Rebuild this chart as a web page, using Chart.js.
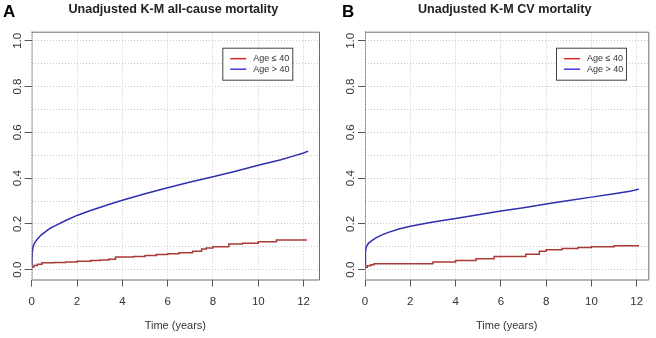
<!DOCTYPE html>
<html>
<head>
<meta charset="utf-8">
<script src="https://cdn.jsdelivr.net/npm/chart.js@4.4.0/dist/chart.umd.min.js"></script>
<style>
  body { margin: 0; background: #fff; }
  #wrap { position: relative; width: 656px; height: 338px; }
  canvas { position: absolute; top: 0; }
</style>
</head>
<body>
<div id="wrap">
  <canvas id="chartA" width="328" height="338" style="left:0"></canvas>
  <canvas id="chartB" width="328" height="338" style="left:328px"></canvas>
</div>
<script>
// panel A: all-cause mortality
const allYoungT = [0, 0.1, 0.25, 0.45, 1.0, 1.5, 2.0, 2.6, 3.0, 3.4, 3.7, 4.5, 5.0, 5.5, 6.0, 6.5, 7.1, 7.5, 7.7, 8.0, 8.7, 9.3, 10.0, 10.8, 12.15];
const allYoungY = [0.012, 0.018, 0.024, 0.03, 0.031, 0.034, 0.037, 0.04, 0.042, 0.046, 0.055, 0.058, 0.062, 0.066, 0.07, 0.074, 0.08, 0.09, 0.095, 0.1, 0.112, 0.115, 0.122, 0.13, 0.13];
const allOldT = [0, 0.01, 0.03, 0.06, 0.12, 0.22, 0.4, 0.6, 0.8, 1.0, 1.5, 2.0, 2.5, 3.0, 3.5, 4.0, 5.0, 6.0, 7.0, 8.0, 9.0, 10.0, 11.0, 11.5, 12.0, 12.2];
const allOldY = [0.02, 0.05, 0.08, 0.1, 0.115, 0.13, 0.15, 0.165, 0.18, 0.19, 0.215, 0.237, 0.255, 0.272, 0.288, 0.303, 0.332, 0.358, 0.383, 0.406, 0.43, 0.456, 0.48, 0.495, 0.51, 0.518];

// panel B: CV mortality
const cvYoungT = [0, 0.1, 0.25, 0.4, 3.0, 4.0, 4.9, 5.7, 7.1, 7.7, 8.0, 8.7, 9.4, 10.0, 11.0, 12.1];
const cvYoungY = [0.01, 0.017, 0.022, 0.026, 0.033, 0.04, 0.048, 0.058, 0.067, 0.08, 0.087, 0.092, 0.097, 0.1, 0.105, 0.105];
const cvOldT = [0, 0.01, 0.03, 0.06, 0.15, 0.3, 0.5, 0.75, 1.0, 1.5, 2.0, 3.0, 4.0, 5.0, 6.0, 7.0, 8.0, 9.0, 10.0, 11.0, 11.7, 12.1];
const cvOldY = [0.02, 0.05, 0.08, 0.1, 0.115, 0.127, 0.14, 0.152, 0.162, 0.178, 0.19, 0.208, 0.224, 0.24, 0.256, 0.271, 0.287, 0.302, 0.317, 0.332, 0.343, 0.352];

const legendLabels = ['Age \u2264 40', 'Age > 40'];
const xTicks = [0, 2, 4, 6, 8, 10, 12];
const yTicks = [0, 0.2, 0.4, 0.6, 0.8, 1.0];

const toPoints = (t, y) => t.map((v, i) => ({ x: v, y: y[i] }));

function isMajorY(v) {
  return yTicks.some(t => Math.abs(t - v) < 1e-6);
}

const panelPlugin = {
  id: 'panel',
  afterDraw(chart, args, opts) {
    const ctx = chart.ctx;
    const a = chart.chartArea;
    const ys = chart.scales.y;
    ctx.save();
    // box
    ctx.strokeStyle = '#6e6e6e';
    ctx.lineWidth = 1;
    ctx.beginPath();
    ctx.moveTo(a.left, a.top + 0.5);
    ctx.lineTo(a.right + 0.5, a.top + 0.5);
    ctx.lineTo(a.right + 0.5, a.bottom + 0.5);
    ctx.lineTo(a.left, a.bottom + 0.5);
    ctx.stroke();
    ctx.setLineDash([1, 1]);
    ctx.strokeStyle = '#555';
    ctx.beginPath();
    ctx.moveTo(a.left + 0.5, a.top);
    ctx.lineTo(a.left + 0.5, a.bottom);
    ctx.stroke();
    ctx.setLineDash([]);

    // rotated y labels
    ctx.fillStyle = '#333';
    ctx.font = '11.5px "Liberation Sans", Arial, sans-serif';
    ctx.textAlign = 'center';
    ctx.textBaseline = 'middle';
    yTicks.forEach(v => {
      const py = ys.getPixelForValue(v);
      ctx.save();
      ctx.translate(a.left - 14, py);
      ctx.rotate(-Math.PI / 2);
      ctx.fillText(v.toFixed(1), 0, 0);
      ctx.restore();
    });

    // legend
    const bw = 70, bh = 32;
    const bx = a.right - opts.legendInset - bw, by = a.top + 16;
    ctx.fillStyle = '#fff';
    ctx.fillRect(bx, by, bw, bh);
    ctx.strokeStyle = '#444';
    ctx.strokeRect(bx + 0.5, by + 0.5, bw, bh);
    const legCols = ['#d42a2a', '#3b3bdc'];
    ctx.font = '9px "Liberation Sans", Arial, sans-serif';
    ctx.textAlign = 'left';
    legendLabels.forEach((lab, i) => {
      const ly = by + 11 + i * 10.5;
      ctx.strokeStyle = legCols[i];
      ctx.lineWidth = 1.5;
      ctx.beginPath();
      ctx.moveTo(bx + 8, ly);
      ctx.lineTo(bx + 24, ly);
      ctx.stroke();
      ctx.fillStyle = '#333';
      ctx.fillText(lab, bx + 31, ly);
    });

    // title and panel letter
    ctx.fillStyle = '#222';
    ctx.font = 'bold 12.6px "Liberation Sans", Arial, sans-serif';
    ctx.textAlign = 'center';
    ctx.fillText(opts.title, (a.left + a.right) / 2 - 2, 9.5);
    ctx.fillStyle = '#000';
    ctx.font = 'bold 17px "Liberation Sans", Arial, sans-serif';
    ctx.textAlign = 'left';
    ctx.fillText(opts.letter, opts.letterX, 12);
    ctx.restore();
  }
};

function makeChart(id, young, old, cfg) {
  return new Chart(document.getElementById(id).getContext('2d'), {
    type: 'line',
    data: {
      datasets: [
        {
          label: legendLabels[0],
          data: young,
          borderColor: '#a83a38',
          borderWidth: 1.5,
          stepped: 'before',
          pointRadius: 0
        },
        {
          label: legendLabels[1],
          data: old,
          borderColor: '#2f2fb2',
          borderWidth: 1.5,
          pointRadius: 0,
          tension: 0
        }
      ]
    },
    options: {
      responsive: false,
      animation: false,
      devicePixelRatio: 1,
      layout: { padding: { top: 31.7, right: cfg.padRight, left: 0, bottom: 0 } },
      plugins: {
        legend: { display: false },
        tooltip: { enabled: false },
        panel: { title: cfg.title, letter: cfg.letter, letterX: cfg.letterX, legendInset: cfg.legendInset }
      },
      scales: {
        x: {
          type: 'linear',
          min: 0,
          max: cfg.xMax,
          afterFit(s) { s.height = 58.5; },
          afterBuildTicks(s) { s.ticks = xTicks.map(v => ({ value: v })); },
          ticks: {
            color: '#333',
            font: { size: 11.5, family: '"Liberation Sans", Arial, sans-serif' },
            padding: 8,
            maxRotation: 0,
            callback: v => String(v)
          },
          grid: {
            color: '#c8c8c8',
            tickColor: '#555',
            tickLength: 7,
            tickBorderDash: []
          },
          border: { display: false, dash: [1, 2] },
          title: {
            display: true,
            text: 'Time (years)',
            color: '#333',
            font: { size: 11, family: '"Liberation Sans", Arial, sans-serif' },
            padding: { top: 0, bottom: 5 }
          }
        },
        y: {
          type: 'linear',
          min: -0.043,
          max: 1.04,
          afterFit(s) { s.width = cfg.yWidth; },
          ticks: {
            stepSize: 0.1,
            includeBounds: false,
            display: false
          },
          grid: {
            color: '#c8c8c8',
            tickColor: c => isMajorY(c.tick.value) ? '#555' : 'rgba(0,0,0,0)',
            tickLength: 7,
            tickBorderDash: []
          },
          border: { display: false, dash: [1, 2] }
        }
      }
    },
    plugins: [panelPlugin]
  });
}

makeChart('chartA', toPoints(allYoungT, allYoungY), toPoints(allOldT, allOldY), {
  title: 'Unadjusted K-M all-cause mortality', letter: 'A', letterX: 3,
  xMax: 12.68, yWidth: 31.7, padRight: 9, legendInset: 26.7
});
makeChart('chartB', toPoints(cvYoungT, cvYoungY), toPoints(cvOldT, cvOldY), {
  title: 'Unadjusted K-M CV mortality', letter: 'B', letterX: 14,
  xMax: 12.51, yWidth: 37, padRight: 7.7, legendInset: 22.3
});
</script>
</body>
</html>
